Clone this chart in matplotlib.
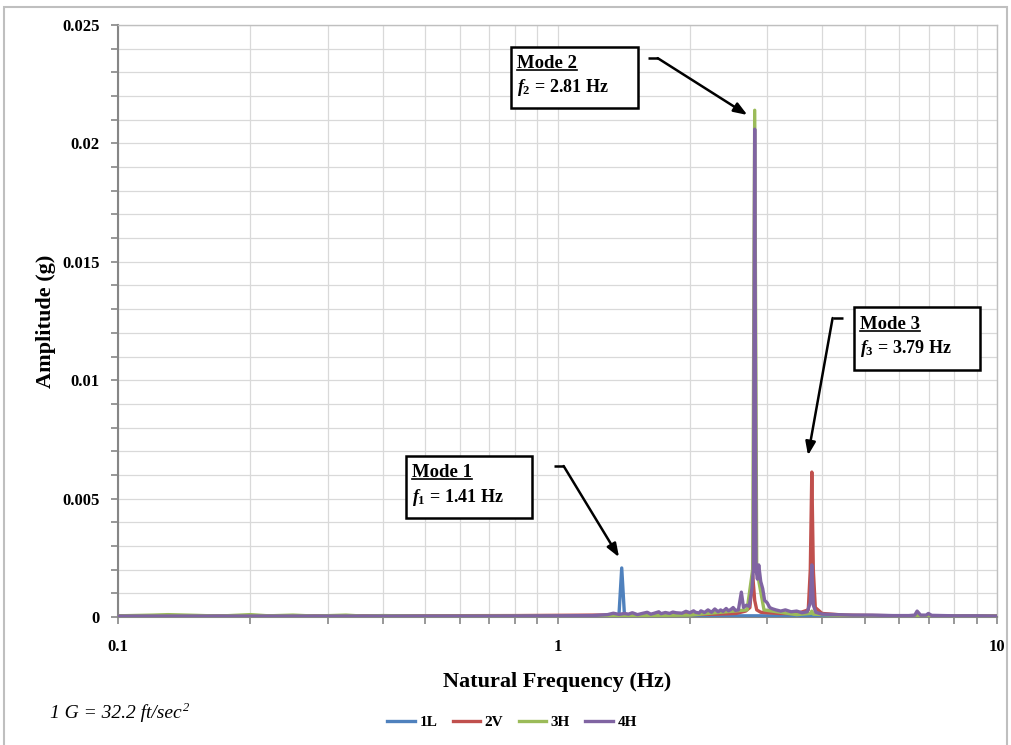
import matplotlib
matplotlib.use("Agg")
import matplotlib.pyplot as plt
from matplotlib.patches import Rectangle
from matplotlib.lines import Line2D
from matplotlib.ticker import LogLocator, MultipleLocator, FixedLocator, NullFormatter

plt.rcParams['font.family'] = ['Liberation Serif', 'DejaVu Serif']
plt.rcParams['mathtext.fontset'] = 'custom'
plt.rcParams['mathtext.rm'] = 'Liberation Serif:bold'
plt.rcParams['mathtext.it'] = 'Liberation Serif:italic:bold'
plt.rcParams['mathtext.bf'] = 'Liberation Serif:bold'

# ---- spectra (frequency in Hz, amplitude in g) ----
freq_1L = [0.10, 0.15, 0.25, 0.40, 0.60, 0.90, 1.20, 1.35, 1.38, 1.40, 1.42, 1.45,
           1.60, 2.00, 2.50, 3.00, 3.56, 4.00, 6.00, 10.0]
amp_1L = [0.00003, 0.00004, 0.00003, 0.00003, 0.00003, 0.00003, 0.00004, 0.00005,
          0.00010, 0.00207, 0.00010, 0.00005, 0.00004, 0.00004, 0.00005, 0.00005,
          0.00006, 0.00004, 0.00003, 0.00003]

freq_2V = [0.10, 0.20, 0.40, 0.80, 1.20, 1.60, 2.00, 2.30, 2.55, 2.68, 2.74, 2.78,
           2.81, 2.84, 2.90, 3.00, 3.20, 3.50, 3.72, 3.76, 3.79, 3.82, 3.86, 4.00,
           4.50, 6.00, 10.0]
amp_2V = [0.00004, 0.00004, 0.00005, 0.00006, 0.00008, 0.00009, 0.00010, 0.00012,
          0.00015, 0.00025, 0.00040, 0.00180, 0.00070, 0.00030, 0.00020, 0.00018,
          0.00015, 0.00014, 0.00030, 0.00200, 0.00612, 0.00200, 0.00040, 0.00015,
          0.00008, 0.00005, 0.00004]

freq_3H = [0.10, 0.12, 0.13, 0.15, 0.17, 0.20, 0.22, 0.25, 0.28, 0.33, 0.36, 0.40,
           0.50, 0.70, 1.00, 1.50, 2.00, 2.70, 2.78, 2.81, 2.84, 2.95, 3.50, 3.76,
           3.79, 3.82, 4.50, 10.0]
amp_3H = [0.00005, 0.00008, 0.00010, 0.00007, 0.00004, 0.00010, 0.00005, 0.00008,
          0.00004, 0.00008, 0.00004, 0.00006, 0.00004, 0.00004, 0.00004, 0.00006,
          0.00008, 0.00030, 0.00200, 0.02140, 0.00200, 0.00030, 0.00010, 0.00015,
          0.00025, 0.00012, 0.00006, 0.00004]

freq_4H = [0.10, 0.20, 0.40, 0.70, 1.00, 1.20, 1.30, 1.34, 1.38, 1.42, 1.45, 1.48,
           1.52, 1.55, 1.60, 1.63, 1.66, 1.70, 1.72, 1.76, 1.80, 1.83, 1.86, 1.92,
           1.96, 2.00, 2.04, 2.06, 2.10, 2.12, 2.16, 2.20, 2.24, 2.28, 2.32, 2.35,
           2.38, 2.42, 2.45, 2.48, 2.51, 2.54, 2.58, 2.62, 2.65, 2.69, 2.73, 2.77,
           2.79, 2.81, 2.83, 2.85, 2.87, 2.90, 2.93, 2.96, 3.00, 3.04, 3.08, 3.14,
           3.22, 3.30, 3.40, 3.50, 3.60, 3.70, 3.76, 3.79, 3.82, 3.87, 4.00, 4.30,
           4.70, 5.20, 5.80, 6.30, 6.50, 6.58, 6.70, 6.90, 6.98, 7.10, 8.00, 9.00,
           10.0]
amp_4H = [0.00004, 0.00004, 0.00004, 0.00004, 0.00005, 0.00006, 0.00010, 0.00016,
          0.00011, 0.00015, 0.00012, 0.00018, 0.00010, 0.00014, 0.00020, 0.00012,
          0.00016, 0.00022, 0.00014, 0.00019, 0.00015, 0.00021, 0.00018, 0.00016,
          0.00024, 0.00018, 0.00026, 0.00020, 0.00017, 0.00026, 0.00019, 0.00030,
          0.00020, 0.00034, 0.00022, 0.00030, 0.00024, 0.00036, 0.00026, 0.00032,
          0.00040, 0.00028, 0.00030, 0.00105, 0.00040, 0.00050, 0.00045, 0.00120,
          0.00200, 0.02060, 0.00200, 0.00160, 0.00220, 0.00150, 0.00120, 0.00070,
          0.00060, 0.00040, 0.00035, 0.00030, 0.00025, 0.00030, 0.00022, 0.00025,
          0.00018, 0.00022, 0.00060, 0.00220, 0.00050, 0.00020, 0.00012, 0.00010,
          0.00008, 0.00008, 0.00006, 0.00006, 0.00008, 0.00025, 0.00008, 0.00008,
          0.00015, 0.00007, 0.00005, 0.00005, 0.00004]

series = [("1L", freq_1L, amp_1L, "#4F81BD"),
          ("2V", freq_2V, amp_2V, "#C0504D"),
          ("3H", freq_3H, amp_3H, "#9BBB59"),
          ("4H", freq_4H, amp_4H, "#8064A2")]

fig = plt.figure(figsize=(10.11, 7.45), dpi=100)
ax = fig.add_axes([118 / 1011, 1 - 617 / 745, 879 / 1011, 592 / 745])

for name, fx, fy, col in series:
    ax.plot(fx, fy, color=col, lw=2.4, label=name, solid_joinstyle='round', zorder=3)

ax.set_xscale('log')
ax.set_xlim(0.1, 10)
ax.set_ylim(0, 0.025)
ax.xaxis.set_major_locator(FixedLocator([0.1, 1, 10]))
ax.set_xticklabels(['0.1', '1', '10'])
ax.xaxis.set_minor_locator(LogLocator(base=10, subs=range(2, 10)))
ax.xaxis.set_minor_formatter(NullFormatter())
ax.yaxis.set_minor_locator(MultipleLocator(0.001))
ax.set_yticks([0, 0.005, 0.01, 0.015, 0.02, 0.025])
ax.set_yticklabels(['0', '0.005', '0.01', '0.015', '0.02', '0.025'])

ax.grid(True, which='both', color='#D9D9D9', lw=0.9, zorder=0)
ax.set_axisbelow(True)
for s in ['top', 'right']:
    ax.spines[s].set_color('#BFBFBF')
    ax.spines[s].set_linewidth(1.0)
for s in ['left', 'bottom']:
    ax.spines[s].set_color('#868686')
    ax.spines[s].set_linewidth(1.5)
ax.tick_params(axis='both', which='both', direction='out', color='#868686', width=1.2)
ax.tick_params(axis='both', which='major', length=5, labelsize=12)
ax.tick_params(axis='x', which='major', pad=11)
ax.tick_params(axis='y', which='major', pad=8)
ax.tick_params(axis='both', which='minor', length=5)
for lab in ax.get_xticklabels() + ax.get_yticklabels():
    lab.set_fontweight('bold')

ax.set_xlabel('Natural Frequency (Hz)', fontsize=16, fontweight='bold', labelpad=12)
ax.set_ylabel('Amplitude (g)', fontsize=16, fontweight='bold', labelpad=5)

# mode annotation boxes (axes fraction)
boxes = [
    ("Mode 1", r"$\mathit{f}_{\mathit{1}}$ = 1.41 Hz", (0.3277, 0.167, 0.143, 0.105),
     (0.4955, 0.255), (0.507, 0.255), (0.570, 0.101)),
    ("Mode 2", r"$\mathit{f}_{\mathit{2}}$ = 2.81 Hz", (0.447, 0.860, 0.145, 0.103),
     (0.603, 0.944), (0.614, 0.944), (0.716, 0.848)),
    ("Mode 3", r"$\mathit{f}_{\mathit{3}}$ = 3.79 Hz", (0.837, 0.417, 0.144, 0.106),
     (0.825, 0.505), (0.813, 0.505), (0.785, 0.273)),
]
titles = []
for title, line2, (bx, by, bw, bh), p0, p1, tip in boxes:
    ax.add_patch(Rectangle((bx, by), bw, bh, transform=ax.transAxes, facecolor='white',
                           edgecolor='black', lw=1.8, zorder=5))
    t = ax.text(bx + 0.007, by + bh * 0.73, title, transform=ax.transAxes, fontsize=13.5,
                fontweight='bold', va='center', ha='left', zorder=6)
    titles.append(t)
    ax.text(bx + 0.007, by + bh * 0.34, line2, transform=ax.transAxes, fontsize=13,
            fontweight='bold', va='center', ha='left', zorder=6)
    ax.plot([p0[0], p1[0]], [p0[1], p1[1]], transform=ax.transAxes, color='black',
            lw=1.8, zorder=6, solid_capstyle='butt')
    ax.annotate('', xy=tip, xycoords='axes fraction', xytext=p1, textcoords='axes fraction',
                arrowprops=dict(arrowstyle='-|>,head_length=0.8,head_width=0.3', color='black',
                                lw=1.8, shrinkA=0, shrinkB=0), zorder=6)

note = fig.text(50 / 1011, 1 - 713 / 745, '1 G = 32.2 ft/sec', fontsize=14, style='italic',
                va='center', ha='left')

leg = fig.legend(loc='center', bbox_to_anchor=(512 / 1011, 1 - 722 / 745), ncol=4,
                 frameon=False, fontsize=11, handlelength=1.8, handletextpad=0.3,
                 columnspacing=1.0)
for txt in leg.get_texts():
    txt.set_fontweight('bold')
for h in leg.legend_handles:
    h.set_linewidth(2.4)

# outer chart border
fig.add_artist(Rectangle((4 / 1011, -0.01), 1003 / 1011, 1 - 7 / 745 + 0.01,
                         transform=fig.transFigure, fill=False, edgecolor='#BFBFBF', lw=1.5))

# underline the mode titles, add the exponent to the note
fig.canvas.draw()
inv = fig.transFigure.inverted()
for t in titles:
    bb = t.get_window_extent()
    (x0, y0), (x1, _) = inv.transform([(bb.x0, bb.y0 + 2), (bb.x1, bb.y0 + 2)])
    fig.add_artist(Line2D([x0, x1], [y0, y0], transform=fig.transFigure, color='black',
                          lw=1.2, zorder=10))
nb = note.get_window_extent()
sx, sy = inv.transform((nb.x1 + 1, nb.y1 - 4))
fig.text(sx, sy, '2', fontsize=9, style='italic', va='center', ha='left')

fig.savefig('out.png', dpi=100)
